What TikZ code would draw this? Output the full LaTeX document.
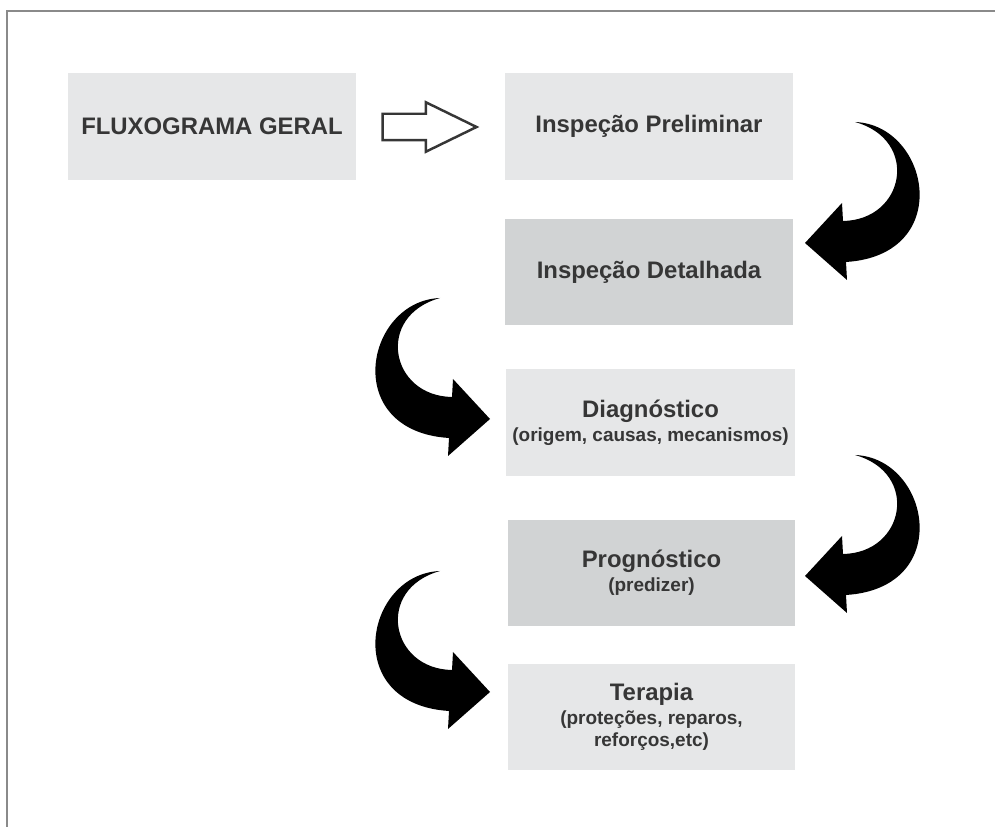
\documentclass[tikz,border=0pt]{standalone}
\usepackage{fontspec}
\setmainfont{Liberation Sans}
\usetikzlibrary{shapes.arrows}

\definecolor{boxlight}{HTML}{E6E7E8}
\definecolor{boxdark}{HTML}{D1D3D4}
\definecolor{textgray}{HTML}{363636}
\definecolor{framegray}{HTML}{8A8A8A}

\newcommand{\subtxt}{\fontsize{10.8}{12.5}\selectfont}

\tikzset{
  stepbox/.style={rectangle, fill=boxlight, minimum width=5.76cm, minimum height=2.14cm,
    align=center, text=textgray, font=\bfseries\fontsize{13.6}{13.6}\selectfont},
  darkbox/.style={stepbox, fill=boxdark},
  hollowarrow/.style={single arrow, draw=textgray, line width=1.4pt, fill=white,
    minimum height=1.88cm, single arrow head extend=0.23cm,
    single arrow tip angle=52, inner xsep=0pt, inner ysep=0.24cm},
  bendarrow/.pic={
    \fill (0,0) .. controls (75,3) and (100,133) .. (-9,140) -- (-8,158) -- (-50,121)
      -- (-13,81) -- (-12,99) .. controls (50,98) and (65,18) .. (0,0) -- cycle;
  }
}

\begin{document}
\begin{tikzpicture}[x=0.02cm, y=-0.02cm]
    \useasboundingbox (0,0) rectangle (995,827);
    \draw[framegray, line width=0.85pt] (7,830) -- (7,11) -- (998,11);

    \node[stepbox] (flux) at (212,126.5) {FLUXOGRAMA GERAL};
    \node[stepbox] (prelim) at (649,126.5) {Inspeção Preliminar};
    \node[darkbox] (detal) at (649,272) {Inspeção Detalhada};
    \node[stepbox] (diag) at (650.5,422.5) {Diagnóstico\\{\subtxt(origem, causas, mecanismos)}};
    \node[darkbox] (progn) at (651.5,573) {Prognóstico\\{\subtxt(predizer)}};
    \node[stepbox] (terap) at (651.5,717) {Terapia\\{\subtxt(proteções, reparos,}\\[-1pt]{\subtxt reforços,etc)}};

    \node[hollowarrow] (seta) at (416,127) {};

    \pic at (855,122) {bendarrow};
    \pic[xscale=-1] at (440,298) {bendarrow};
    \pic at (855,455) {bendarrow};
    \pic[xscale=-1] at (440,571) {bendarrow};
\end{tikzpicture}
\end{document}
